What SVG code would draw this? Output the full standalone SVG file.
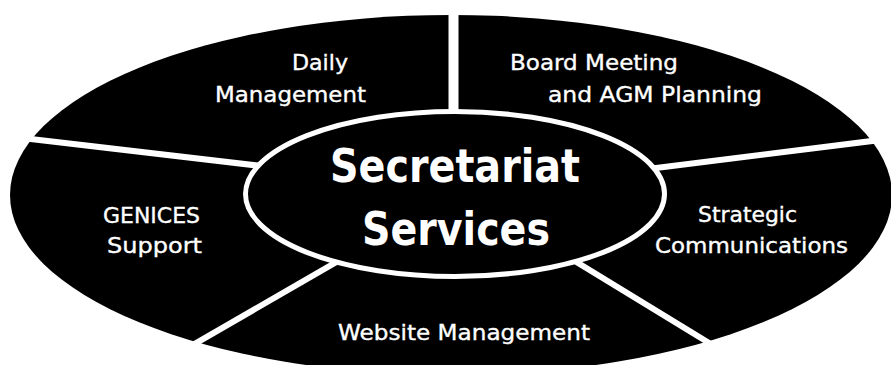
<svg xmlns="http://www.w3.org/2000/svg" width="891" height="365" viewBox="0 0 891 365">
<style>
.ring{fill:#000}
.div{stroke:#fff;stroke-width:6;fill:none}
.inner{fill:#000;stroke:#fff;stroke-width:5}
.lbl{font-family:"DejaVu Sans","Liberation Sans",sans-serif;font-size:21px;fill:#fff;stroke:#fff;stroke-width:0.35}
.title{font-family:"DejaVu Sans","Liberation Sans",sans-serif;font-weight:bold;font-size:46px;fill:#fff}
</style>
<rect width="891" height="365" fill="#fff"/>
<g id="ring">
<ellipse class="ring" cx="451" cy="195" rx="441" ry="180"/>
</g>
<g id="connectors">
<line class="div" x1="453.5" y1="0" x2="453.5" y2="120" style="stroke-width:10"/>
<line class="div" x1="20" y1="137.8" x2="270" y2="167"/>
<line class="div" x1="640" y1="170.1" x2="895" y2="138.1"/>
<line class="div" x1="350" y1="254.2" x2="180" y2="352.4"/>
<line class="div" x1="560" y1="252" x2="730" y2="355.7"/>
</g>
<g id="center">
<ellipse class="inner" cx="455" cy="194" rx="209.5" ry="82.5"/>
<text class="title" x="330" y="182" textLength="250" lengthAdjust="spacingAndGlyphs">Secretariat</text>
<text class="title" x="362" y="245" textLength="188" lengthAdjust="spacingAndGlyphs">Services</text>
</g>
<g id="daily-management">
<text class="lbl" x="292" y="70" textLength="56" lengthAdjust="spacingAndGlyphs">Daily</text>
<text class="lbl" x="215" y="102" textLength="151" lengthAdjust="spacingAndGlyphs">Management</text>
</g>
<g id="board-meeting">
<text class="lbl" x="510" y="70" textLength="168" lengthAdjust="spacingAndGlyphs">Board Meeting</text>
<text class="lbl" x="548" y="102" textLength="214" lengthAdjust="spacingAndGlyphs">and AGM Planning</text>
</g>
<g id="genices-support">
<text class="lbl" x="103" y="223" textLength="97" lengthAdjust="spacingAndGlyphs">GENICES</text>
<text class="lbl" x="107" y="253" textLength="95" lengthAdjust="spacingAndGlyphs">Support</text>
</g>
<g id="strategic-communications">
<text class="lbl" x="698" y="222" textLength="99" lengthAdjust="spacingAndGlyphs">Strategic</text>
<text class="lbl" x="655" y="253" textLength="193" lengthAdjust="spacingAndGlyphs">Communications</text>
</g>
<g id="website-management">
<text class="lbl" x="338" y="340" textLength="252" lengthAdjust="spacingAndGlyphs">Website Management</text>
</g>
</svg>
